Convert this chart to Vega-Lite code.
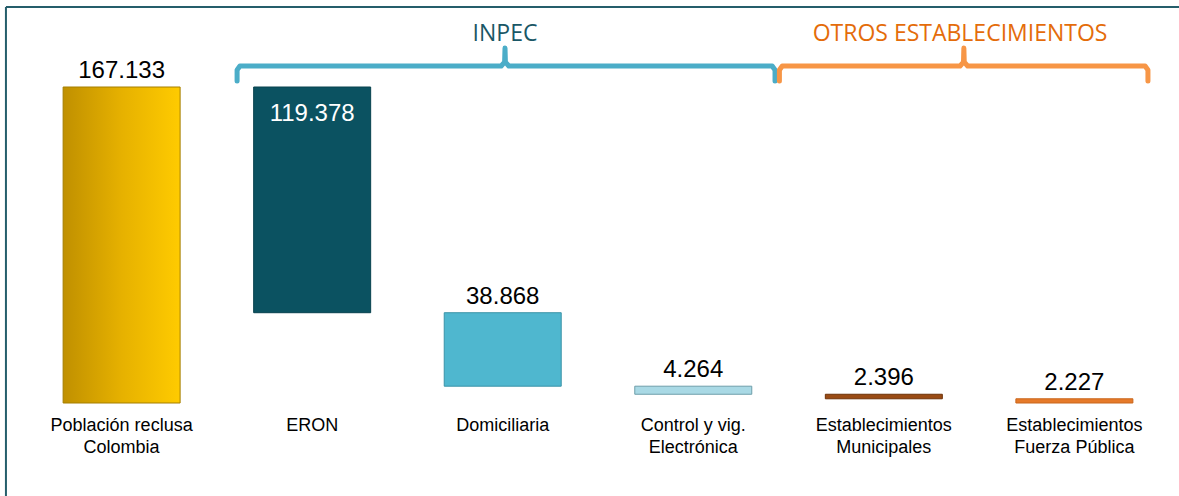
{
  "$schema": "https://vega.github.io/schema/vega-lite/v6.json",
  "width": 1146,
  "height": 316,
  "autosize": "none",
  "padding": {"left": 25, "right": 8, "top": 87, "bottom": 93},
  "background": "white",
  "config": {"view": {"stroke": null}},
  "datasets": {
    "bars": [
      {"cat": "Población reclusa\nColombia", "start": 0, "end": 167133, "label": "167.133"},
      {"cat": "ERON", "start": 47755, "end": 167133, "label": "119.378"},
      {"cat": "Domiciliaria", "start": 8887, "end": 47755, "label": "38.868"},
      {"cat": "Control y vig.\nElectrónica", "start": 4623, "end": 8887, "label": "4.264"},
      {"cat": "Establecimientos\nMunicipales", "start": 2227, "end": 4623, "label": "2.396"},
      {"cat": "Establecimientos\nFuerza Pública", "start": 0, "end": 2227, "label": "2.227"}
    ],
    "brackets": [
      {"group": "INPEC", "o": 1, "xi": 0.606, "v": 170300},
      {"group": "INPEC", "o": 2, "xi": 0.606, "v": 176100},
      {"group": "INPEC", "o": 3, "xi": 0.621, "v": 178240},
      {"group": "INPEC", "o": 4, "xi": 1.992, "v": 178240},
      {"group": "INPEC", "o": 5, "xi": 2.010, "v": 180300},
      {"group": "INPEC", "o": 6, "xi": 2.012, "v": 187700},
      {"group": "INPEC", "o": 7, "xi": 2.014, "v": 180300},
      {"group": "INPEC", "o": 8, "xi": 2.032, "v": 178240},
      {"group": "INPEC", "o": 9, "xi": 3.414, "v": 178240},
      {"group": "INPEC", "o": 10, "xi": 3.429, "v": 176100},
      {"group": "INPEC", "o": 11, "xi": 3.429, "v": 170300},
      {"group": "OTROS", "o": 1, "xi": 3.452, "v": 170300},
      {"group": "OTROS", "o": 2, "xi": 3.452, "v": 176100},
      {"group": "OTROS", "o": 3, "xi": 3.467, "v": 178240},
      {"group": "OTROS", "o": 4, "xi": 4.400, "v": 178240},
      {"group": "OTROS", "o": 5, "xi": 4.418, "v": 180300},
      {"group": "OTROS", "o": 6, "xi": 4.420, "v": 187700},
      {"group": "OTROS", "o": 7, "xi": 4.422, "v": 180300},
      {"group": "OTROS", "o": 8, "xi": 4.440, "v": 178240},
      {"group": "OTROS", "o": 9, "xi": 5.371, "v": 178240},
      {"group": "OTROS", "o": 10, "xi": 5.386, "v": 176100},
      {"group": "OTROS", "o": 11, "xi": 5.386, "v": 170300}
    ],
    "titles": [
      {"group": "INPEC", "text": "INPEC", "xi": 2.012, "v": 195160},
      {"group": "OTROS", "text": "OTROS ESTABLECIMIENTOS", "xi": 4.40, "v": 195160}
    ],
    "frame": [
      {"x1": -0.607, "x2": 9, "v1": 209440, "v2": -60000}
    ]
  },
  "resolve": {"scale": {"x": "independent"}},
  "layer": [
    {
      "data": {"name": "bars"},
      "encoding": {
        "x": {
          "field": "cat",
          "type": "nominal",
          "sort": null,
          "scale": {
            "domain": ["Población reclusa\nColombia", "ERON", "Domiciliaria", "Control y vig.\nElectrónica", "Establecimientos\nMunicipales", "Establecimientos\nFuerza Pública"],
            "paddingInner": 0.386,
            "paddingOuter": 0.2
          },
          "axis": {
            "title": null,
            "domain": false,
            "ticks": false,
            "tickSize": 0,
            "labelAngle": 0,
            "labelPadding": 13,
            "labelFont": "Liberation Sans",
            "labelFontSize": 18,
            "labelColor": "#000000",
            "labelLineHeight": 22,
            "labelExpr": "split(datum.value, '\\n')"
          }
        },
        "y": {
          "field": "end",
          "type": "quantitative",
          "scale": {"domain": [0, 167133], "nice": false, "zero": true},
          "axis": null
        }
      },
      "layer": [
        {
          "transform": [{"filter": "datum.cat != 'Población reclusa\\nColombia'"}],
          "mark": {"type": "bar", "strokeWidth": 1},
          "encoding": {
            "y2": {"field": "start"},
            "color": {
              "field": "cat",
              "type": "nominal",
              "legend": null,
              "scale": {
                "domain": ["ERON", "Domiciliaria", "Control y vig.\nElectrónica", "Establecimientos\nMunicipales", "Establecimientos\nFuerza Pública"],
                "range": ["#0B5261", "#4FB7CF", "#A9D9E5", "#9A4B14", "#E67A2A"]
              }
            },
            "stroke": {
              "field": "cat",
              "type": "nominal",
              "legend": null,
              "scale": {
                "domain": ["ERON", "Domiciliaria", "Control y vig.\nElectrónica", "Establecimientos\nMunicipales", "Establecimientos\nFuerza Pública"],
                "range": ["#08424E", "#3B93A8", "#6E9EAA", "#6E3208", "#C9661C"]
              }
            }
          }
        },
        {
          "transform": [{"filter": "datum.cat == 'Población reclusa\\nColombia'"}],
          "mark": {
            "type": "bar",
            "stroke": "#A57E00",
            "strokeWidth": 1,
            "fill": {
              "gradient": "linear",
              "x1": 0, "y1": 0, "x2": 1, "y2": 0,
              "stops": [
                {"offset": 0, "color": "#C09000"},
                {"offset": 0.5, "color": "#E6B100"},
                {"offset": 1, "color": "#FFCB00"}
              ]
            }
          },
          "encoding": {"y2": {"field": "start"}}
        },
        {
          "transform": [{"filter": "datum.cat != 'ERON'"}],
          "mark": {"type": "text", "baseline": "alphabetic", "dy": -9, "font": "Liberation Sans", "fontSize": 24, "color": "#000000"},
          "encoding": {"text": {"field": "label"}}
        },
        {
          "transform": [{"filter": "datum.cat == 'ERON'"}],
          "mark": {"type": "text", "baseline": "alphabetic", "dy": 34, "font": "Liberation Sans", "fontSize": 24, "color": "#FFFFFF"},
          "encoding": {"text": {"field": "label"}}
        }
      ]
    },
    {
      "resolve": {"scale": {"color": "independent"}},
      "layer": [
        {
          "data": {"name": "frame"},
          "mark": {"type": "rule", "stroke": "#255E6B", "strokeWidth": 2},
          "encoding": {
            "x": {"field": "x1", "type": "quantitative", "scale": {"domain": [-0.507, 5.507], "nice": false, "zero": false}, "axis": null},
            "y": {"field": "v1", "type": "quantitative", "scale": {"domain": [0, 167133], "nice": false, "zero": true}, "axis": null},
            "y2": {"field": "v2"}
          }
        },
        {
          "data": {"name": "frame"},
          "mark": {"type": "rule", "stroke": "#255E6B", "strokeWidth": 2},
          "encoding": {
            "x": {"field": "x1", "type": "quantitative", "scale": {"domain": [-0.507, 5.507], "nice": false, "zero": false}, "axis": null},
            "x2": {"field": "x2"},
            "y": {"field": "v1", "type": "quantitative", "scale": {"domain": [0, 167133], "nice": false, "zero": true}, "axis": null}
          }
        },
        {
          "data": {"name": "brackets"},
          "mark": {"type": "line", "strokeWidth": 5, "strokeJoin": "round", "strokeCap": "round"},
          "encoding": {
            "x": {"field": "xi", "type": "quantitative", "scale": {"domain": [-0.507, 5.507], "nice": false, "zero": false}, "axis": null},
            "y": {"field": "v", "type": "quantitative", "scale": {"domain": [0, 167133], "nice": false, "zero": true}, "axis": null},
            "order": {"field": "o", "type": "quantitative"},
            "detail": {"field": "group"},
            "color": {
              "field": "group",
              "type": "nominal",
              "legend": null,
              "scale": {"domain": ["INPEC", "OTROS"], "range": ["#4BADC8", "#F79646"]}
            }
          }
        },
        {
          "data": {"name": "titles"},
          "mark": {"type": "text", "baseline": "middle", "align": "center", "font": "Open Sans", "fontSize": 23},
          "encoding": {
            "x": {"field": "xi", "type": "quantitative", "scale": {"domain": [-0.507, 5.507], "nice": false, "zero": false}, "axis": null},
            "y": {"field": "v", "type": "quantitative", "scale": {"domain": [0, 167133], "nice": false, "zero": true}, "axis": null},
            "text": {"field": "text"},
            "fill": {
              "field": "group",
              "type": "nominal",
              "legend": null,
              "scale": {"domain": ["INPEC", "OTROS"], "range": ["#1A5766", "#E46C0A"]}
            }
          }
        }
      ]
    }
  ]
}
